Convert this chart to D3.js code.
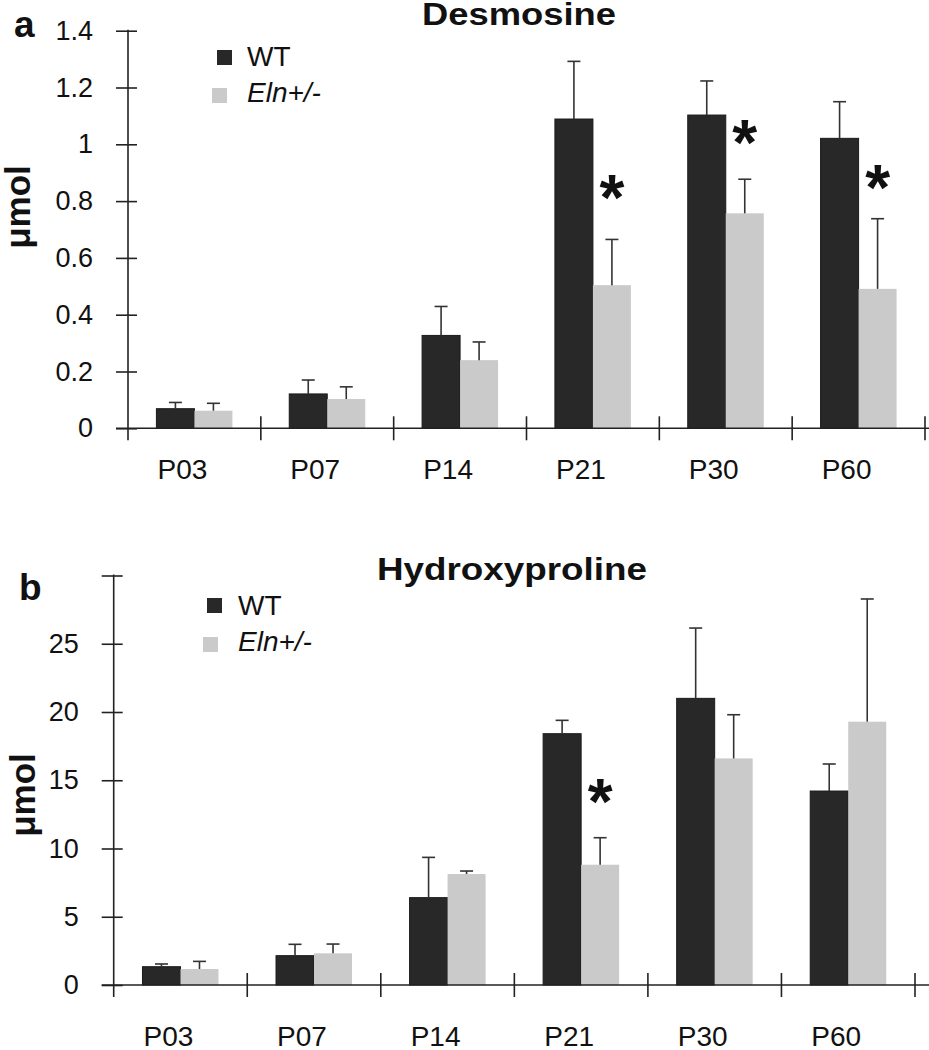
<!DOCTYPE html>
<html><head><meta charset="utf-8">
<script src="https://cdn.jsdelivr.net/npm/d3@7/dist/d3.min.js"></script>
<style>body{margin:0;background:#fff}svg{display:block}text{font-family:"Liberation Sans",Arial,sans-serif;fill:#111}</style>
</head><body><svg id="c" width="929" height="1050"></svg>
<script>
const categories = ["P03","P07","P14","P21","P30","P60"];
const seriesNames = ["WT","Eln+/-"];
// Panel a: Desmosine
const desWT = [0.069,0.121,0.327,1.089,1.103,1.021];
const desWTerr = [0.022,0.049,0.102,0.203,0.120,0.129];
const desEln = [0.062,0.103,0.240,0.504,0.757,0.491];
const desElnErr = [0.026,0.043,0.064,0.161,0.120,0.247];
const desTicks = [0,0.2,0.4,0.6,0.8,1,1.2,1.4];
const desTickLabels = ["0","0.2","0.4","0.6","0.8","1","1.2","1.4"];
const desStarCats = ["P21","P30","P60"];
const desStarVals = [0.856,1.05,0.89];
// Panel b: Hydroxyproline
const hypWT = [1.34,2.15,6.40,18.41,21.0,14.21];
const hypWTerr = [0.20,0.83,2.95,0.98,5.15,1.98];
const hypEln = [1.17,2.32,8.13,8.81,16.6,19.29];
const hypElnErr = [0.56,0.68,0.22,1.98,3.2,8.99];
const hypTicks = [0,5,10,15,20,25,30];
const hypTickLabels = ["0","5","10","15","20","25",""];
const hypStarCats = ["P21"];
const hypStarVals = [14.3];

const colors = ["#282828","#cacaca"];
const svg = d3.select("#c");

function panel(o){
  const g = svg.append("g");
  const y = d3.scaleLinear().domain([0,o.ymax]).range([o.y0,o.ytop]);
  const x = d3.scaleBand().domain(categories).range([o.xl,o.xr]);
  const bw = 38;
  const sets=[[o.wt,o.wtErr],[o.eln,o.elnErr]];
  sets.forEach((s,si)=>{
    const data = categories.map((c,i)=>({c,v:s[0][i],e:s[1][i]}));
    const cx = d=> x(d.c)+x.bandwidth()/2 + (si===0?-bw:0);
    g.selectAll(null).data(data).enter().append("rect")
      .attr("x",cx).attr("y",d=>y(d.v)).attr("width",bw).attr("height",d=>y(0)-y(d.v))
      .attr("fill",colors[si]).attr("stroke",si===0?"#1a1a1a":"none").attr("stroke-width",1);
    const mid = d=>cx(d)+bw/2;
    g.selectAll(null).data(data).enter().append("line")
      .attr("x1",mid).attr("x2",mid).attr("y1",d=>y(d.v)).attr("y2",d=>y(d.v+d.e))
      .attr("stroke","#333").attr("stroke-width",1.6);
    g.selectAll(null).data(data).enter().append("line")
      .attr("x1",d=>mid(d)-6.5).attr("x2",d=>mid(d)+6.5).attr("y1",d=>y(d.v+d.e)).attr("y2",d=>y(d.v+d.e))
      .attr("stroke","#333").attr("stroke-width",1.6);
  });
  // y axis
  const ya = d3.axisLeft(y).tickValues(o.ticks).tickFormat((d,i)=>o.tickLabels[i]).tickSizeInner(12).tickSizeOuter(0).tickPadding(23);
  const yg = g.append("g").attr("transform",`translate(${o.xl},0)`).call(ya);
  yg.select(".domain").remove();
  yg.selectAll(".tick line").attr("x1",-12).attr("x2",9).attr("stroke","#222").attr("stroke-width",1.6);
  yg.selectAll(".tick text").attr("font-size",27).attr("fill","#111").style("font-family","Liberation Sans, Arial");
  g.append("line").attr("x1",o.xl).attr("x2",o.xl).attr("y1",o.ytop-1).attr("y2",o.y0+12).attr("stroke","#222").attr("stroke-width",1.6);
  // x axis
  g.append("line").attr("x1",o.xl-12).attr("x2",929).attr("y1",o.y0).attr("y2",o.y0).attr("stroke","#222").attr("stroke-width",1.6);
  const seps = categories.map(c=>x(c)+x.bandwidth());
  g.selectAll(null).data(seps).enter().append("line")
    .attr("x1",d=>d).attr("x2",d=>d).attr("y1",o.y0-12).attr("y2",o.y0+12)
    .attr("stroke","#222").attr("stroke-width",1.6);
  g.selectAll(null).data(categories).enter().append("text")
    .attr("x",d=>x(d)+x.bandwidth()/2-12).attr("y",o.labY).attr("text-anchor","middle")
    .attr("font-size",28).text(d=>d);
  // stars
  const fs=64;
  g.selectAll(null).data(o.starCats.map((c,i)=>({c,v:o.starVals[i]}))).enter().append("text")
    .attr("x",d=>x(d.c)+x.bandwidth()/2+bw/2).attr("y",d=>y(d.v)+0.54*fs)
    .attr("text-anchor","middle").attr("font-size",fs).attr("font-weight","bold").attr("fill","#000").text("*");
  // title, panel letter, y label
  g.append("text").attr("x",o.titleX).attr("y",o.titleY)
    .attr("font-size",31).attr("font-weight","bold").attr("fill","#000")
    .attr("textLength",o.titleW).attr("lengthAdjust","spacingAndGlyphs").text(o.title);
  g.append("text").attr("x",o.letterX).attr("y",o.letterY).attr("font-size",37).attr("font-weight","bold").attr("fill","#000").text(o.letter);
  g.append("text").attr("transform",`translate(${o.ylabX},${o.ylabY}) rotate(-90)`).attr("text-anchor","middle")
    .attr("font-size",35).attr("font-weight","bold").attr("fill","#000").text("μmol");
  // legend
  const lg = g.append("g");
  seriesNames.forEach((n,i)=>{
    lg.append("rect").attr("x",o.legSq[i][0]).attr("y",o.legSq[i][1]).attr("width",15).attr("height",15).attr("fill",colors[i]);
    lg.append("text").attr("x",o.legTx).attr("y",o.legBase[i]).attr("font-size",28)
      .attr("font-style",i===1?"italic":"normal").text(n);
  });
}

panel({ymax:1.4,y0:428.3,ytop:30.7,xl:128,xr:925,wt:desWT,wtErr:desWTerr,eln:desEln,elnErr:desElnErr,
  ticks:desTicks,tickLabels:desTickLabels,starCats:desStarCats,starVals:desStarVals,labY:479,
  title:"Desmosine",titleX:422,titleY:25,titleW:194,letter:"a",letterX:14,letterY:37,ylabX:30,ylabY:207,
  legSq:[[217,50],[212,88]],legTx:247,legBase:[66,102]});
panel({ymax:30,y0:985,ytop:575.5,xl:113.7,xr:915,wt:hypWT,wtErr:hypWTerr,eln:hypEln,elnErr:hypElnErr,
  ticks:hypTicks,tickLabels:hypTickLabels,starCats:hypStarCats,starVals:hypStarVals,labY:1046,
  title:"Hydroxyproline",titleX:377,titleY:580,titleW:270,letter:"b",letterX:19,letterY:600,ylabX:35,ylabY:795,
  legSq:[[207,598],[203,637]],legTx:238,legBase:[615,651]});
</script></body></html>
